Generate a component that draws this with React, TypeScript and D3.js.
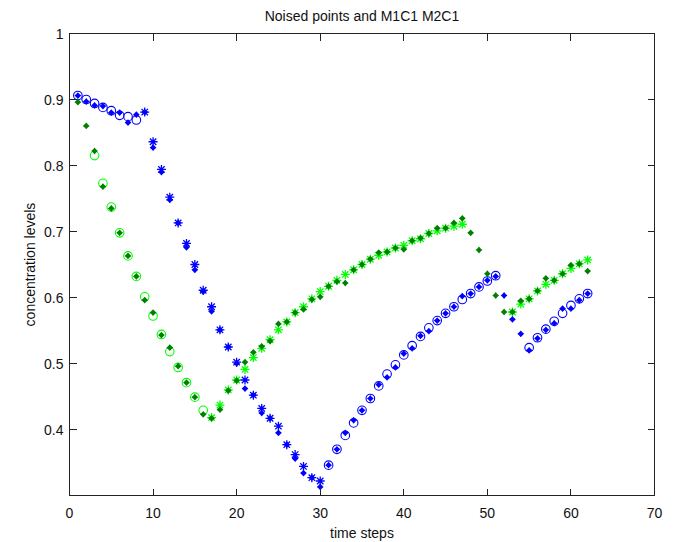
import React from "react";
import * as d3 from "d3";

// time steps 1..62
const timeSteps: number[] = Array.from({ length: 62 }, (_, i) => i + 1);

// noised points, species 1 (blue dots)
const noised1: number[] = [
  0.906, 0.897, 0.891, 0.890, 0.880, 0.880, 0.865, 0.877, 0.881, 0.827,
  0.790, 0.748, 0.713, 0.676, 0.642, 0.609, 0.579, 0.551, 0.525, 0.500,
  0.462, 0.452, 0.425, 0.417, 0.395, 0.377, 0.356, 0.334, 0.327, 0.313,
  0.346, 0.370, 0.395, 0.414, 0.429, 0.447, 0.468, 0.479, 0.494, 0.515,
  0.523, 0.542, 0.549, 0.565, 0.576, 0.586, 0.602, 0.606, 0.616, 0.626,
  0.632, 0.603, 0.567, 0.545, 0.520, 0.538, 0.551, 0.561, 0.583, 0.583,
  0.596, 0.606,
];

// noised points, species 2 (dark green dots)
const noised2: number[] = [
  0.896, 0.860, 0.822, 0.768, 0.735, 0.698, 0.663, 0.632, 0.596, 0.577,
  0.543, 0.524, 0.496, 0.471, 0.449, 0.423, 0.417, 0.430, 0.459, 0.474,
  0.502, 0.517, 0.526, 0.534, 0.560, 0.563, 0.577, 0.582, 0.597, 0.601,
  0.617, 0.624, 0.622, 0.642, 0.650, 0.658, 0.668, 0.669, 0.675, 0.673,
  0.686, 0.690, 0.697, 0.705, 0.705, 0.713, 0.720, 0.698, 0.672, 0.636,
  0.603, 0.578, 0.578, 0.595, 0.598, 0.610, 0.629, 0.626, 0.636, 0.649,
  0.651, 0.640,
];

// model species 1 (blue): null where not drawn
const model1: (number | null)[] = [
  0.906, 0.900, 0.894, 0.888, 0.883, 0.876, 0.874, 0.869, 0.881, 0.836,
  0.794, 0.752, 0.713, 0.682, 0.650, 0.611, 0.586, 0.551, 0.525, 0.502,
  0.475, 0.452, 0.432, 0.417, 0.405, 0.377, 0.362, 0.344, 0.327, 0.322,
  0.346, 0.370, 0.391, 0.410, 0.429, 0.447, 0.466, 0.484, 0.498, 0.513,
  0.527, 0.541, 0.554, 0.565, 0.576, 0.586, 0.597, 0.606, 0.616, 0.625,
  0.633, null, null, null, 0.524, 0.539, 0.552, 0.564, 0.576, 0.588,
  0.598, 0.606,
];
// marker of model 1 per step: "o" = M1C1 circle, "*" = M2C1 asterisk
const model1Marker: string[] = [
  "o", "o", "o", "o", "o", "o", "o", "o", "*", "*",
  "*", "*", "*", "*", "*", "*", "*", "*", "*", "*",
  "*", "*", "*", "*", "*", "*", "*", "*", "*", "*",
  "o", "o", "o", "o", "o", "o", "o", "o", "o", "o",
  "o", "o", "o", "o", "o", "o", "o", "o", "o", "o",
  "o", "", "", "", "o", "o", "o", "o", "o", "o",
  "o", "o",
];

// model species 2 (green)
const model2: (number | null)[] = [
  null, null, 0.815, 0.773, 0.737, 0.698, 0.663, 0.632, 0.601, 0.572,
  0.544, 0.518, 0.494, 0.471, 0.449, 0.429, 0.418, 0.437, 0.460, 0.475,
  0.491, 0.509, 0.523, 0.536, 0.551, 0.563, 0.577, 0.586, 0.598, 0.609,
  0.617, 0.626, 0.635, 0.642, 0.650, 0.658, 0.664, 0.669, 0.675, 0.679,
  0.686, 0.689, 0.697, 0.701, 0.705, 0.708, 0.711, null, null, null,
  null, null, 0.578, 0.590, 0.598, 0.610, 0.620, 0.626, 0.636, 0.644,
  0.651, 0.657,
];
const model2Marker: string[] = [
  "", "", "o", "o", "o", "o", "o", "o", "o", "o",
  "o", "o", "o", "o", "o", "o", "*", "*", "*", "*",
  "*", "*", "*", "*", "*", "*", "*", "*", "*", "*",
  "*", "*", "*", "*", "*", "*", "*", "*", "*", "*",
  "*", "*", "*", "*", "*", "*", "*", "", "", "",
  "", "", "*", "*", "*", "*", "*", "*", "*", "*",
  "*", "*",
];

const xTicks: number[] = [0, 10, 20, 30, 40, 50, 60, 70];
const yTicks: number[] = [0.4, 0.5, 0.6, 0.7, 0.8, 0.9, 1];
const yTickLabels: string[] = ["0.4", "0.5", "0.6", "0.7", "0.8", "0.9", "1"];

const W = 675;
const H = 542;
const L = 69.5;
const R = 654.5;
const T = 33.5;
const B = 495.5;

const BLUE = "#0000ff";
const GREEN = "#00ff00";
const DARK = "#008000";
const FONT = "'Liberation Sans', Arial, Helvetica, sans-serif";

const ast = "M-4.5,0H4.5M0,-4.5V4.5M-3.2,-3.2L3.2,3.2M-3.2,3.2L3.2,-3.2";
const dot = "M0,-3.4L1.6,-1.6L3.4,0L1.6,1.6L0,3.4L-1.6,1.6L-3.4,0L-1.6,-1.6Z";

export default function App() {
  const x = d3.scaleLinear().domain([0, 70]).range([L, R]);
  const y = d3.scaleLinear().domain([0.3, 1]).range([B, T]);

  const drawModel = (vals: (number | null)[], marks: string[], color: string, key: string) =>
    vals.map((v, i) => {
      if (v === null) return null;
      const cx = x(timeSteps[i]);
      const cy = y(v);
      if (marks[i] === "o") {
        return <circle key={key + i} cx={cx} cy={cy} r={4.3} fill="none" stroke={color} strokeWidth={1.1} />;
      }
      return <path key={key + i} d={ast} transform={`translate(${cx},${cy})`} stroke={color} strokeWidth={1.3} fill="none" />;
    });

  const drawDots = (vals: number[], color: string, key: string) =>
    vals.map((v, i) => (
      <path key={key + i} d={dot} transform={`translate(${x(timeSteps[i])},${y(v)})`} fill={color} />
    ));

  return (
    <svg width={W} height={H} style={{ position: "absolute", left: 0, top: 0, background: "#fff" }}>
      <rect x={0} y={0} width={W} height={H} fill="#fff" />
      <g>
        {drawModel(model2, model2Marker, GREEN, "m2")}
        {drawModel(model1, model1Marker, BLUE, "m1")}
        {drawDots(noised2, DARK, "n2")}
        {drawDots(noised1, BLUE, "n1")}
      </g>
      <g stroke="#222" strokeWidth={1} shapeRendering="crispEdges" fill="none">
        <rect x={L} y={T} width={R - L} height={B - T} />
        {xTicks.map((t) => (
          <g key={"xt" + t}>
            <line x1={x(t)} x2={x(t)} y1={B} y2={B - 7} />
            <line x1={x(t)} x2={x(t)} y1={T} y2={T + 7} />
          </g>
        ))}
        {yTicks.map((t) => (
          <g key={"yt" + t}>
            <line x1={L} x2={L + 7} y1={y(t)} y2={y(t)} />
            <line x1={R} x2={R - 7} y1={y(t)} y2={y(t)} />
          </g>
        ))}
      </g>
      <g fontFamily={FONT} fontSize={14} fill="#111">
        {xTicks.map((t) => (
          <text key={"xl" + t} x={x(t)} y={518} textAnchor="middle">{t}</text>
        ))}
        {yTicks.map((t, i) => (
          <text key={"yl" + t} x={63.5} y={y(t) + 5} textAnchor="end">{yTickLabels[i]}</text>
        ))}
        <text x={(L + R) / 2} y={20.5} textAnchor="middle">Noised points and M1C1 M2C1</text>
        <text x={(L + R) / 2} y={537.5} textAnchor="middle">time steps</text>
        <text transform={`translate(35,${(T + B) / 2}) rotate(-90)`} textAnchor="middle">concentration levels</text>
      </g>
    </svg>
  );
}
